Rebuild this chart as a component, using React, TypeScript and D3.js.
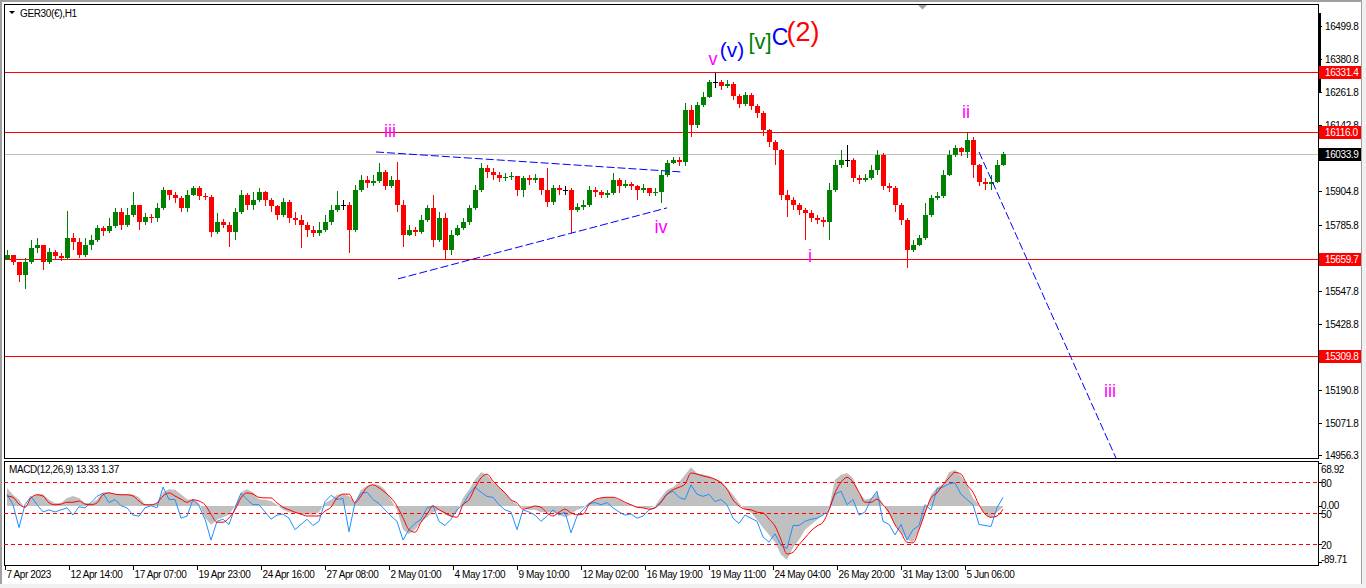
import { useEffect, useRef } from "react";
import * as d3 from "d3";

const W = 1366;
const H = 588;

const symbolLabel = "GER30(€),H1";
const macdLabel = "MACD(12,26,9) 13.33 1.37";

// every candle below groups six hourly bars
const hoursPerCandle = 6;
const firstOpen = 15660;

const closes = [
  15673, 15648, 15601, 15648, 15698, 15709, 15648, 15684, 15669, 15662,
  15734, 15720, 15673, 15709, 15727, 15770, 15759, 15777, 15827, 15781,
  15817, 15852, 15791, 15809, 15806, 15842, 15906, 15888, 15878, 15842,
  15888, 15914, 15885, 15881, 15755, 15791, 15781, 15755, 15827, 15888,
  15852, 15870, 15899, 15870, 15849, 15817, 15863, 15806, 15799, 15781,
  15763, 15752, 15763, 15791, 15835, 15852, 15852, 15763, 15906, 15942,
  15932, 15939, 15971, 15921, 15942, 15852, 15745, 15763, 15755, 15799,
  15842, 15727, 15806, 15691, 15745, 15770, 15791, 15842, 15906, 15985,
  15971, 15960, 15949, 15953, 15957, 15906, 15949, 15942, 15949, 15906,
  15863, 15914, 15906, 15906, 15835, 15845, 15852, 15906, 15899, 15888,
  15896, 15942, 15921, 15928, 15921, 15906, 15914, 15896, 15899, 15960,
  16003, 16014, 16007, 16194, 16140, 16212, 16241, 16294, 16294, 16280,
  16287, 16244, 16215, 16248, 16208, 16183, 16122, 16079, 16050, 15888,
  15870, 15852, 15835, 15824, 15806, 15799, 15791, 15906, 15996, 16014,
  16014, 15949, 15942, 15949, 15978, 16032, 15921, 15914, 15852, 15799,
  15691, 15709, 15734, 15817, 15878, 15885, 15960, 16032, 16057, 16043,
  16086, 15996, 15935, 15928, 15935, 15996, 16033.9,
];

const highs = [
  15691, 15673, 15648, 15662, 15727, 15734, 15709, 15698, 15691, 15680,
  15831, 15752, 15734, 15734, 15745, 15781, 15777, 15806, 15842, 15842,
  15842, 15899, 15852, 15824, 15820, 15860, 15917, 15906, 15899, 15885,
  15906, 15921, 15921, 15896, 15888, 15824, 15802, 15791, 15842, 15906,
  15895, 15899, 15914, 15903, 15878, 15852, 15878, 15870, 15827, 15817,
  15791, 15777, 15791, 15817, 15852, 15903, 15870, 15863, 15924, 15960,
  15957, 15960, 16003, 15978, 15957, 16007, 15870, 15781, 15773, 15817,
  15852, 15888, 15827, 15824, 15763, 15781, 15806, 15852, 15924, 16003,
  15996, 15985, 15971, 15967, 15971, 15957, 15957, 15960, 15964, 15949,
  15985, 15924, 15924, 15921, 15914, 15860, 15870, 15921, 15917, 15906,
  15906, 15967, 15950, 15942, 15935, 15924, 15928, 15914, 15914, 15978,
  16014, 16025, 16025, 16219, 16212, 16223, 16258, 16302, 16327, 16302,
  16302, 16295, 16251, 16258, 16255, 16215, 16190, 16125, 16086, 16055,
  15906, 15881, 15860, 15842, 15835, 15817, 15809, 15932, 16014, 16050,
  16068, 16020, 15960, 15964, 15996, 16050, 16040, 15932, 15920, 15860,
  15805, 15727, 15745, 15860, 15888, 15899, 15978, 16050, 16068, 16061,
  16111, 16095, 16000, 15949, 15960, 16014, 16043,
];

const lows = [
  15655, 15637, 15576, 15551, 15640, 15680, 15619, 15640, 15655, 15651,
  15655, 15691, 15662, 15666, 15691, 15720, 15741, 15752, 15770, 15763,
  15775, 15810, 15763, 15781, 15788, 15791, 15835, 15870, 15860, 15827,
  15827, 15885, 15870, 15870, 15738, 15748, 15770, 15702, 15727, 15820,
  15835, 15835, 15862, 15849, 15827, 15799, 15810, 15788, 15781, 15698,
  15738, 15738, 15741, 15756, 15781, 15827, 15835, 15680, 15755, 15898,
  15914, 15921, 15932, 15906, 15914, 15827, 15702, 15741, 15741, 15748,
  15791, 15702, 15720, 15655, 15673, 15741, 15763, 15781, 15835, 15900,
  15949, 15942, 15935, 15939, 15942, 15885, 15881, 15924, 15932, 15888,
  15845, 15852, 15888, 15888, 15752, 15827, 15835, 15845, 15881, 15878,
  15878, 15888, 15896, 15914, 15906, 15870, 15896, 15885, 15885, 15860,
  15952, 16000, 15993, 15993, 16097, 16130, 16205, 16237, 16273, 16266,
  16273, 16230, 16201, 16208, 16194, 16165, 16100, 16061, 15996, 15870,
  15809, 15835, 15817, 15727, 15791, 15784, 15773, 15727, 15900, 15985,
  15989, 15935, 15928, 15935, 15942, 15960, 15906, 15899, 15827, 15781,
  15626, 15684, 15705, 15727, 15810, 15870, 15878, 15955, 16025, 16029,
  16021, 15949, 15921, 15906, 15906, 15932, 15993,
];

const macdHist = [
  29, 18, 10, -3, 14, 19, 19, 10, 5, 5,
  13, 16, 13, 5, 5, 10, 22, 22, 19, 19,
  19, 19, 14, 3, 2, 5, 22, 27, 26, 19,
  11, 10, 5, -19, -30, -22, -18, -14, 0, 22,
  27, 22, 11, 10, 8, 2, -6, -10, -11, -14,
  -13, -14, -10, 5, 10, 18, 19, 16, 6, 26,
  32, 34, 34, 26, 10, -6, -38, -45, -38, -26,
  -18, -10, -6, -14, -18, -10, 13, 26, 42, 54,
  50, 38, 30, 22, 10, 3, -3, -6, -6, -10,
  -10, -10, -14, -18, -14, -6, -3, 6, 10, 13,
  14, 14, 10, 5, 3, -2, -3, -3, 0, 14,
  26, 30, 38, 50, 62, 53, 51, 48, 43, 40,
  29, 18, 5, -6, -10, -22, -35, -46, -58, -78,
  -86, -67, -54, -38, -30, -22, -14, -3, 42, 50,
  53, 45, 22, 10, 13, 21, 2, -13, -30, -42,
  -54, -58, -38, -14, 18, 30, 34, 54, 58, 48,
  34, 13, 2, -14, -19, -10, -2,
];

const macdSignal = [
  16, 14, 3, -2, 13, 18, 16, 5, 2, 3,
  6, 6, 8, 3, 2, 5, 18, 21, 19, 18,
  18, 16, 8, 2, 2, 5, 16, 21, 16, 11,
  6, 10, 8, 2, -13, -26, -26, -19, -6, 13,
  21, 19, 14, 13, 13, 5, -2, -6, -10, -13,
  -16, -16, -16, -8, -2, 13, 19, 19, 5, 16,
  30, 34, 29, 22, 13, 0, -19, -38, -42, -26,
  -13, 0, -6, -11, -16, -18, 2, 10, 29, 45,
  51, 40, 30, 21, 10, 5, -5, -3, 0, -2,
  -11, -16, -10, -5, -11, -14, -13, 2, 10, 13,
  14, 14, 11, 6, 2, -2, -3, -5, -3, 6,
  19, 26, 30, 35, 53, 51, 48, 46, 43, 37,
  27, 10, 0, -5, -6, -10, -11, -21, -32, -54,
  -77, -74, -62, -51, -40, -32, -26, -6, 21, 38,
  46, 38, 22, 6, 6, 11, 2, -10, -30, -43,
  -58, -59, -38, -11, 13, 21, 34, 45, 54, 51,
  34, 22, 2, -13, -18, -16, -5,
];

// blue oscillator, 0..100 scale with the dashed 80/50/20 levels
const oscLine = [
  68, 58, 36, 58, 66, 58, 51, 53, 51, 53,
  55, 48, 56, 55, 60, 66, 69, 60, 63, 57,
  55, 48, 47, 55, 57, 55, 75, 63, 63, 45,
  47, 63, 57, 44, 24, 42, 44, 39, 55, 69,
  63, 58, 58, 51, 44, 48, 49, 45, 34, 39,
  44, 38, 42, 61, 67, 63, 64, 32, 60, 69,
  70, 63, 59, 53, 47, 42, 24, 34, 40, 44,
  55, 57, 42, 38, 44, 53, 58, 68, 75, 70,
  66, 65, 58, 53, 51, 34, 53, 51, 48, 42,
  47, 53, 48, 51, 31, 47, 53, 59, 60, 58,
  60, 55, 51, 48, 49, 45, 47, 53, 55, 61,
  68, 71, 65, 63, 77, 68, 66, 68, 61, 63,
  58, 45, 40, 48, 45, 42, 27, 22, 30, 19,
  16, 38, 38, 42, 44, 45, 48, 53, 68, 71,
  58, 63, 48, 51, 63, 71, 42, 39, 29, 39,
  24, 34, 38, 58, 53, 73, 75, 78, 79, 68,
  63, 58, 39, 38, 37, 55, 65,
];

const timeLabels = [
  "7 Apr 2023", "12 Apr 14:00", "17 Apr 07:00", "19 Apr 23:00", "24 Apr 16:00",
  "27 Apr 08:00", "2 May 01:00", "4 May 17:00", "9 May 10:00", "12 May 02:00",
  "16 May 19:00", "19 May 11:00", "24 May 04:00", "26 May 20:00", "31 May 13:00",
  "5 Jun 06:00",
];
const timeLabelHours = [1, 65, 129, 193, 257, 321, 385, 449, 513, 577, 641, 705, 769, 833, 897, 961];

const priceTicks = [
  16499.8, 16380.8, 16261.8, 16142.8, 16023.8, 15904.8, 15785.8, 15666.8,
  15547.8, 15428.8, 15309.8, 15190.8, 15071.8, 14956.3,
];
const levelLines = [16331.4, 16116.0, 15659.7, 15309.8];
const lastPrice = 16033.9;

const macdTicks = [68.92, 0, -89.71];
const macdTickLabels = ["68.92", "0.00", "-89.71"];
const oscLevels = [80, 50, 20];

const trendLines = [
  { h1: 372, p1: 16043, h2: 678, p2: 15971 },
  { h1: 394, p1: 15587, h2: 663, p2: 15842 },
  { h1: 975, p1: 16043, h2: 1112, p2: 14943 },
];

const waveLabels = [
  { text: "iii", hour: 386, price: 16097, color: "#ff00ff", size: 18 },
  { text: "iv", hour: 657, price: 15752, color: "#ff00ff", size: 18 },
  { text: "v", hour: 709, price: 16355, color: "#ff00ff", size: 18 },
  { text: "(v)", hour: 728, price: 16384, color: "#0000ff", size: 21 },
  { text: "[v]", hour: 756, price: 16413, color: "#008000", size: 22 },
  { text: "C", hour: 776, price: 16427, color: "#0000ff", size: 23 },
  { text: "(2)", hour: 799, price: 16442, color: "#ff0000", size: 27 },
  { text: "i", hour: 806, price: 15648, color: "#ff00ff", size: 18 },
  { text: "ii", hour: 962, price: 16165, color: "#ff00ff", size: 18 },
  { text: "iii", hour: 1106, price: 15163, color: "#ff00ff", size: 18 },
];

const FONT = "'Liberation Sans', Arial, sans-serif";

export default function App() {
  const svgRef = useRef<SVGSVGElement>(null);

  useEffect(() => {
    const svg = d3.select(svgRef.current);
    svg.selectAll("*").remove();

    const left = 4;
    const right = 1318;
    const mainTop = 4;
    const mainBottom = 458;
    const subTop = 461;
    const subBottom = 565;

    const x = d3.scaleLinear().domain([0, right - left]).range([left, right]);
    const y = d3.scaleLinear().domain([14943.4, 16574.6]).range([mainBottom, mainTop]);
    const yMacd = d3.scaleLinear().domain([-89.71, 68.92]).range([562, 463]);
    const yOsc = d3.scaleLinear().domain([0, 100]).range([subBottom, subTop]);

    const candles = closes.map((c, i) => {
      const o = i === 0 ? firstOpen : closes[i - 1];
      return {
        hour: i * hoursPerCandle + hoursPerCandle / 2,
        o,
        c,
        h: Math.max(highs[i], o, c),
        l: Math.min(lows[i], o, c),
      };
    });

    // frame
    svg.append("rect").attr("width", W).attr("height", H).attr("fill", "#fff");
    svg.append("rect").attr("width", W).attr("height", 2).attr("fill", "#a0a0a0");
    svg.append("rect").attr("width", 2).attr("height", H).attr("fill", "#a0a0a0");
    svg.append("rect").attr("x", 1361).attr("width", 5).attr("height", H).attr("fill", "#f0f0f0");
    svg.append("line").attr("x1", 1361.5).attr("x2", 1361.5).attr("y1", 0).attr("y2", H).attr("stroke", "#a0a0a0");
    svg.append("rect").attr("y", 584).attr("width", W).attr("height", 4).attr("fill", "#f0f0f0");

    const defs = svg.append("defs");
    defs.append("clipPath").attr("id", "mainClip")
      .append("rect").attr("x", left).attr("y", mainTop).attr("width", right - left).attr("height", mainBottom - mainTop);
    defs.append("clipPath").attr("id", "subClip")
      .append("rect").attr("x", left).attr("y", subTop).attr("width", right - left).attr("height", subBottom - subTop);

    const main = svg.append("g").attr("clip-path", "url(#mainClip)");

    // level lines
    main.append("line")
      .attr("x1", left).attr("x2", right)
      .attr("y1", Math.round(y(lastPrice)) + 0.5).attr("y2", Math.round(y(lastPrice)) + 0.5)
      .attr("stroke", "#c0c0c0");
    levelLines.forEach((p) => {
      main.append("line")
        .attr("x1", left).attr("x2", right)
        .attr("y1", Math.round(y(p)) + 0.5).attr("y2", Math.round(y(p)) + 0.5)
        .attr("stroke", "#ff0000");
    });

    // candles
    const cg = main.append("g").attr("shape-rendering", "crispEdges");
    candles.forEach((d) => {
      const cx = Math.round(x(d.hour));
      const col = d.c > d.o ? "#008000" : d.c < d.o ? "#ff0000" : "#000";
      cg.append("line")
        .attr("x1", cx + 0.5).attr("x2", cx + 0.5)
        .attr("y1", y(d.h)).attr("y2", y(d.l))
        .attr("stroke", col);
      const top = y(Math.max(d.o, d.c));
      const bot = y(Math.min(d.o, d.c));
      cg.append("rect")
        .attr("x", cx - 2).attr("width", 5)
        .attr("y", top).attr("height", Math.max(1, bot - top))
        .attr("fill", col);
    });

    // trend lines
    trendLines.forEach((t) => {
      main.append("line")
        .attr("x1", x(t.h1)).attr("y1", y(t.p1))
        .attr("x2", x(t.h2)).attr("y2", y(t.p2))
        .attr("stroke", "#0000ff")
        .attr("stroke-width", 1)
        .attr("stroke-dasharray", "8,3");
    });

    // wave labels
    waveLabels.forEach((w) => {
      svg.append("text")
        .attr("x", x(w.hour)).attr("y", y(w.price))
        .attr("text-anchor", "middle")
        .attr("font-family", FONT)
        .attr("font-size", w.size)
        .attr("fill", w.color)
        .text(w.text);
    });

    // panel borders
    svg.append("rect")
      .attr("x", left + 0.5).attr("y", mainTop + 0.5)
      .attr("width", right - left).attr("height", mainBottom - mainTop)
      .attr("fill", "none").attr("stroke", "#000");
    svg.append("rect")
      .attr("x", left + 0.5).attr("y", subTop + 0.5)
      .attr("width", right - left).attr("height", subBottom - subTop)
      .attr("fill", "none").attr("stroke", "#000");

    // chart shift marker
    svg.append("path").attr("d", "M918,5 L927,5 L922.5,9.5 Z").attr("fill", "#a0a0a0");
    // symbol caption
    svg.append("path").attr("d", "M9,11 L15,11 L12,14 Z").attr("fill", "#000");
    svg.append("text")
      .attr("x", 20).attr("y", 17)
      .attr("font-family", FONT).attr("font-size", 10).attr("letter-spacing", -0.35)
      .text(symbolLabel);

    // price axis
    const axisText = (sel: d3.Selection<SVGTextElement, unknown, null, undefined>) =>
      sel.attr("font-family", FONT).attr("font-size", 10).attr("letter-spacing", -0.4);

    const covered = (p: number) =>
      [...levelLines, lastPrice].some((q) => q !== 16116.0 && Math.abs(y(q) - y(p)) < 9);

    svg.append("rect").attr("x", right).attr("y", 13).attr("width", 3).attr("height", 80).attr("fill", "#000");
    priceTicks.forEach((p) => {
      const yy = Math.round(y(p)) + 1.5;
      svg.append("line").attr("x1", right).attr("x2", right + 4).attr("y1", yy).attr("y2", yy).attr("stroke", "#000");
      if (covered(p)) return;
      axisText(svg.append("text"))
        .attr("x", 1325).attr("y", Math.min(yy + 3.5, 459))
        .attr("fill", "#000")
        .text(p.toFixed(1));
    });

    const priceBox = (p: number, bg: string) => {
      const yy = Math.round(y(p));
      svg.append("rect").attr("x", 1319).attr("y", yy - 6).attr("width", 42).attr("height", 13).attr("fill", bg);
      axisText(svg.append("text"))
        .attr("x", 1325).attr("y", yy + 4)
        .attr("fill", "#fff")
        .text(p.toFixed(1));
    };
    levelLines.forEach((p) => priceBox(p, "#ff0000"));
    priceBox(lastPrice, "#000");

    // sub window
    const sub = svg.append("g").attr("clip-path", "url(#subClip)");
    const histArea = d3.area<number>()
      .x((_, i) => x(candles[i].hour))
      .y0(yMacd(0))
      .y1((d) => yMacd(d));
    sub.append("path").datum(macdHist).attr("d", histArea).attr("fill", "#c0c0c0");

    oscLevels.forEach((lv) => {
      sub.append("line")
        .attr("x1", left).attr("x2", right)
        .attr("y1", Math.round(yOsc(lv)) + 0.5).attr("y2", Math.round(yOsc(lv)) + 0.5)
        .attr("stroke", "#ff0000")
        .attr("stroke-dasharray", "4,3");
    });

    const oscPath = d3.line<number>()
      .x((_, i) => x(candles[i].hour))
      .y((d) => yOsc(d));
    sub.append("path").datum(oscLine).attr("d", oscPath).attr("fill", "none").attr("stroke", "#1e90ff").attr("stroke-width", 1);

    const sigPath = d3.line<number>()
      .x((_, i) => x(candles[i].hour))
      .y((d) => yMacd(d))
      .curve(d3.curveMonotoneX);
    sub.append("path").datum(macdSignal).attr("d", sigPath).attr("fill", "none").attr("stroke", "#ff0000").attr("stroke-width", 1);

    axisText(svg.append("text"))
      .attr("x", 9).attr("y", 473)
      .attr("fill", "#000")
      .text(macdLabel);

    // sub window axis
    macdTicks.forEach((v, i) => {
      const yy = Math.round(yMacd(v)) + 0.5;
      svg.append("line").attr("x1", right).attr("x2", right + 4).attr("y1", yy).attr("y2", yy).attr("stroke", "#000");
      const ty = i === 0 ? yy + 9 : i === 2 ? yy : yy + 2;
      axisText(svg.append("text")).attr("x", 1321).attr("y", ty).attr("fill", "#000").text(macdTickLabels[i]);
    });
    oscLevels.forEach((lv) => {
      const yy = Math.round(yOsc(lv)) + 0.5;
      svg.append("line").attr("x1", right).attr("x2", right + 4).attr("y1", yy).attr("y2", yy).attr("stroke", "#000");
      axisText(svg.append("text")).attr("x", 1321).attr("y", yy + 4).attr("fill", "#000").text(String(lv));
    });

    // time axis
    timeLabels.forEach((lab, i) => {
      const xx = Math.round(x(timeLabelHours[i])) + 0.5;
      svg.append("line").attr("x1", xx).attr("x2", xx).attr("y1", subBottom).attr("y2", subBottom + 5).attr("stroke", "#000");
      axisText(svg.append("text")).attr("x", xx + 1).attr("y", 578).attr("fill", "#000").text(lab);
    });
  }, []);

  return (
    <svg
      ref={svgRef}
      width={W}
      height={H}
      style={{ position: "fixed", left: 0, top: 0, display: "block" }}
    />
  );
}
